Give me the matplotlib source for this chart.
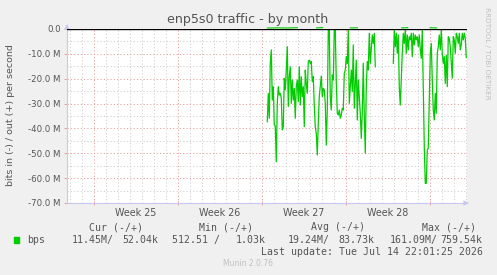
import numpy as np
import matplotlib
matplotlib.use("Agg")
import matplotlib.pyplot as plt
from matplotlib.patches import Rectangle

# ============================================================
# DATA  (values in Mbit/s, one sample every 2 hours)
# ============================================================
# days from left edge of the graph
t_start = 16.69
week_lines = [2.25, 9.25, 16.25, 23.25, 30.25]
week_labels = ["Week 25", "Week 26", "Week 27", "Week 28"]

in_seg1 = [37.3, 25.9, 35.9, 13.8, 8.4, 28.6, 23.2, 38.6, 39.0, 53.4,
           29.9, 23.2, 26.6, 25.9, 27.9, 40.6, 39.3, 19.8, 24.5, 16.5,
           7.1, 31.2, 19.2, 15.2, 29.9, 20.5, 28.6, 23.9, 35.9, 23.2,
           20.5, 29.2, 15.2, 30.6, 19.2, 27.2, 23.2, 39.3, 16.5, 21.9,
           25.9, 13.1, 12.5, 13.8, 13.1, 21.2, 19.2, 30.6, 39.3, 42.0,
           50.7, 38.0, 27.2, 23.2, 18.9, 27.2, 23.9, 24.5, 29.9, 46.7,
           32.6, 0.4, 0.1, 27.2, 32.6, 18.5, 20.5, 0.1, 0.4, 21.2,
           33.9, 34.6, 32.6, 35.9, 34.6, 31.9, 32.6, 17.8, 16.5, 11.1,
           13.8, 0.4, 29.9, 23.2, 16.5, 25.2, 6.4, 31.9, 21.9, 12.5,
           36.6, 20.5, 27.2, 33.9, 44.0, 33.3, 13.8, 35.3, 50.0, 23.2,
           13.1, 16.5, 1.7, 13.8, 7.8, 2.4, 5.8, 1.7, 15.2]
gap_samples = 17
in_seg2 = [13.8, 0.4, 7.1, 1.7, 9.8, 2.4, 23.2, 30.6, 20.5, 9.8,
           1.7, 5.8, 0.4, 9.8, 2.4, 8.4, 3.1, 4.4, 1.7, 11.1,
           1.7, 6.4, 2.4, 4.4, 3.1, 7.1, 2.4, 8.4, 11.8, 0.4,
           24.5, 47.3, 62.1, 62.1, 48.7, 48.0, 29.9, 9.8, 5.8, 20.5,
           32.6, 36.6, 25.9, 33.9, 9.8, 7.1, 2.4, 8.4, 0.4, 9.8,
           13.8, 11.1, 21.9, 10.5, 23.2, 3.1, 3.8, 7.1, 13.8, 19.8,
           3.1, 4.4, 9.8, 1.7, 3.1, 5.8, 1.7, 8.4, 6.4, 1.7,
           4.4, 1.7, 3.8, 11.45]

# outgoing traffic (kbit/s), only where it shows above the zero line
out_days = [16.7, 17.5, 18.3, 19.2, 20.0, 20.8, 21.3, 22.2, 23.6, 24.2, 25.0,
            27.9, 28.4, 29.3, 30.25, 30.8]
out_k = [380, 460, 400, 520, np.nan, 450, 560, np.nan, 430, 500, np.nan,
         450, 540, np.nan, 500, 430]

yticks = [0, -10, -20, -30, -40, -50, -60, -70]
ytick_labels = ["0.0", "-10.0 M", "-20.0 M", "-30.0 M", "-40.0 M",
                "-50.0 M", "-60.0 M", "-70.0 M"]

legend_headers = ["Cur (-/+)", "Min (-/+)", "Avg (-/+)", "Max (-/+)"]
legend_in = ["11.45M/", "512.51 /", "19.24M/", "161.09M/"]
legend_out = ["52.04k", "1.03k", "83.73k", "759.54k"]

# ============================================================
# PLOT
# ============================================================
W, H = 497, 275
BG = "#F0F0F0"
TXT = "#555555"
GREEN = "#00CC00"
MAJOR = "#E8A0A0"
MINOR = "#D0D0D0"
AXIS = "#C8C8F0"


def px(x, y):
    return x / W, 1 - y / H


fig = plt.figure(figsize=(W / 100, H / 100), dpi=100, facecolor=BG)
ax = fig.add_axes([67 / W, 1 - 203 / H, 400 / W, 174 / H])
ax.set_facecolor("white")

vals = np.array(in_seg1 + [np.nan] * gap_samples + in_seg2)
t = t_start + np.arange(len(vals)) / 12.0

ax.set_xlim(0, 400 / 12)
ax.set_ylim(-70, 0)

# grid
dots = (0, (1.2, 2.2))
for d in np.arange(0.25, 33.4, 1.0):
    if not any(abs(d - w) < 1e-6 for w in week_lines):
        ax.axvline(d, color=MINOR, lw=0.7, ls=dots, zorder=1)
for w in week_lines:
    ax.axvline(w, color=MAJOR, lw=0.7, ls=dots, zorder=1)
for y in np.arange(-65, 0, 10):
    ax.axhline(y, color=MINOR, lw=0.7, ls=dots, zorder=1)
for y in yticks[1:-1]:
    ax.axhline(y, color=MAJOR, lw=0.7, ls=dots, zorder=1)

ax.plot(t, -vals, color=GREEN, lw=0.9, zorder=3)
ax.axhline(0, color="black", lw=1.0, zorder=4)
ax.plot(out_days, np.array(out_k) / 1000.0, color=GREEN, lw=0.8,
        zorder=5, clip_on=False)

# axes
for s in ["top", "right"]:
    ax.spines[s].set_visible(False)
for s in ["left", "bottom"]:
    ax.spines[s].set_color(AXIS)
    ax.spines[s].set_linewidth(0.8)
ax.annotate("", xy=(0, 1.045), xytext=(0, 0.99), xycoords="axes fraction",
            annotation_clip=False,
            arrowprops=dict(arrowstyle="-|>", color=AXIS, lw=0.8,
                            mutation_scale=7))
ax.annotate("", xy=(1.012, 0), xytext=(0.99, 0), xycoords="axes fraction",
            annotation_clip=False,
            arrowprops=dict(arrowstyle="-|>", color=AXIS, lw=0.8,
                            mutation_scale=7))

ax.set_yticks(yticks)
ax.set_yticklabels(ytick_labels)
ax.tick_params(axis="y", length=2, width=0.7, color=MAJOR, pad=2.5,
               labelsize=6.2, labelcolor=TXT)
ax.set_xticks(week_lines)
ax.set_xticklabels([])
ax.tick_params(axis="x", length=3, width=0.7, color=MAJOR,
               direction="inout")

for i, lab in enumerate(week_labels):
    mid = (week_lines[i] + week_lines[i + 1]) / 2
    ax.text(mid, -0.056, lab, transform=ax.get_xaxis_transform(),
            ha="center", va="center", fontsize=6.9, color=TXT)

# titles
fig.text(*px(248, 19), "enp5s0 traffic - by month", ha="center",
         va="center", fontsize=9.1, color=TXT)
fig.text(*px(10.7, 115), "bits in (-) / out (+) per second", rotation=90,
         ha="center", va="center", fontsize=6.8, color=TXT)
fig.text(*px(487, 53), "RRDTOOL / TOBI OETIKER", rotation=270,
         ha="center", va="center", fontsize=5.2, color="#C0C0C0")

# legend
mono = dict(family="DejaVu Sans Mono", fontsize=7.1, color=TXT)
hdr_right = [142.7, 253.3, 365, 476]
for x, h in zip(hdr_right, legend_headers):
    fig.text(*px(x, 227.5), h, ha="right", va="center", **mono)
fig.patches.append(Rectangle(px(14, 242.7), 5.3 / W, 5.3 / H,
                             transform=fig.transFigure, color=GREEN))
fig.text(*px(26.7, 240), "bps", ha="left", va="center", **mono)
in_right = [113.3, 220, 330, 438]
out_right = [158, 266, 374, 482.7]
for x, s in zip(in_right, legend_in):
    fig.text(*px(x, 240), s, ha="right", va="center", **mono)
for x, s in zip(out_right, legend_out):
    fig.text(*px(x, 240), s, ha="right", va="center", **mono)
fig.text(*px(482.7, 252), "Last update: Tue Jul 14 22:01:25 2026",
         ha="right", va="center", **mono)
fig.text(*px(248, 263.5), "Munin 2.0.76", ha="center", va="center",
         fontsize=5.5, color="#C0C0C0")

fig.savefig("out.png", dpi=100, facecolor=BG)
